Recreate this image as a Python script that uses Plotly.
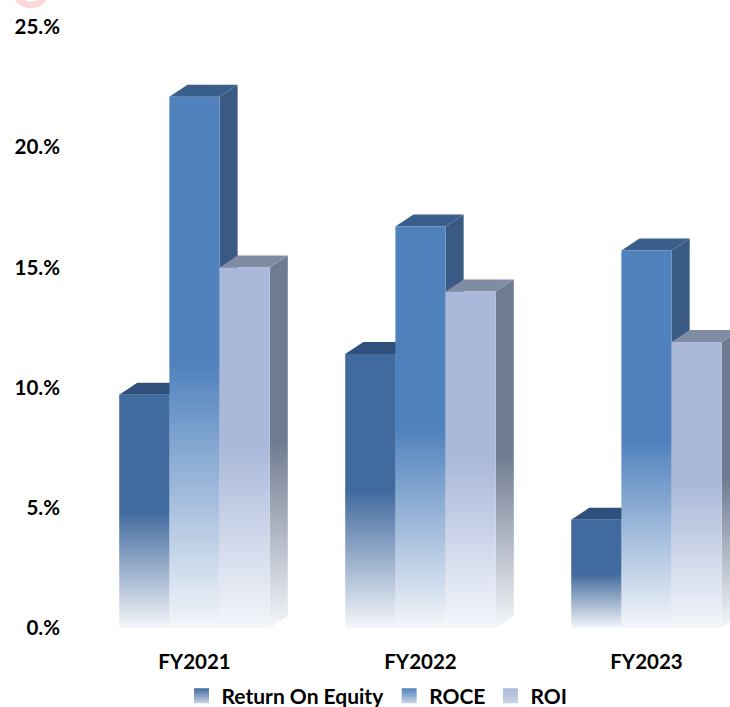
import plotly.graph_objects as go

# ---- data -------------------------------------------------------------
years = ["FY2021", "FY2022", "FY2023"]
roe = [9.7, 11.4, 4.5]
roce = [22.1, 16.7, 15.7]
roi = [15.0, 14.0, 11.9]

y_tick_vals = [0, 5, 10, 15, 20, 25]
y_tick_text = ["0.%", "5.%", "10.%", "15.%", "20.%", "25.%"]

series = [
    # name, values, front, top, side
    ("Return On Equity", roe, "#416A9E", "#2F4F7D", "#34557F"),
    ("ROCE", roce, "#4F81BD", "#395E8B", "#385A84"),
    ("ROI", roi, "#AAB9DA", "#7F8CA4", "#6F7B90"),
]

# ---- geometry of the pseudo-3D boxes (category units / percent units) --
BAR_W = 0.222   # front face width
DEPTH_X = 0.08  # receding depth, horizontal
DEPTH_Y = 0.5   # receding depth, vertical
FADE = "#F4F6FA"

fig = go.Figure()


def face(xs, ys, color, fade=True):
    if fade:
        grad = dict(type="vertical",
                    colorscale=[[0, FADE], [0.5, color], [1, color]])
        return go.Scatter(x=xs, y=ys, fill="toself", mode="lines",
                          line=dict(width=0), fillgradient=grad,
                          hoverinfo="skip", showlegend=False)
    return go.Scatter(x=xs, y=ys, fill="toself", mode="lines",
                      line=dict(width=0), fillcolor=color,
                      hoverinfo="skip", showlegend=False)


n = len(series)
for gi in range(len(years)):
    for si, (name, vals, c_front, c_top, c_side) in enumerate(series):
        v = vals[gi]
        xl = gi + (si - (n - 1) / 2) * BAR_W - BAR_W / 2
        xr = xl + BAR_W
        # right side face
        fig.add_trace(face([xr, xr + DEPTH_X, xr + DEPTH_X, xr, xr],
                           [0, DEPTH_Y, v + DEPTH_Y, v, 0], c_side))
        # top face
        fig.add_trace(face([xl, xr, xr + DEPTH_X, xl + DEPTH_X, xl],
                           [v, v, v + DEPTH_Y, v + DEPTH_Y, v], c_top, fade=False))
        # front face
        fig.add_trace(face([xl, xr, xr, xl, xl], [0, 0, v, v, 0], c_front))

# legend entries
for name, vals, c_front, c_top, c_side in series:
    fig.add_trace(go.Scatter(
        x=[None], y=[None], mode="markers", name=name,
        marker=dict(symbol="square", size=15, color=c_front,
                    gradient=dict(type="vertical", color="#C9D3E4")),
        hoverinfo="skip"))

FONT = "Lato"
W, H = 730, 707
ML, MR, MT, MB = 81, 0, 27, 79
PW, PH = W - ML - MR, H - MT - MB
x_range = [-0.502, 2.3695]


def px_x(px):
    return (px - ML) / PW


def px_y(py):
    return (H - MB - py) / PH


fig.update_layout(
    width=W, height=H,
    margin=dict(l=ML, r=MR, t=MT, b=MB, autoexpand=False),
    paper_bgcolor="white", plot_bgcolor="white",
    font=dict(family=FONT, color="black"),
    xaxis=dict(range=x_range, tickvals=list(range(len(years))), ticktext=years,
               showgrid=False, zeroline=False, showline=False, ticks="",
               tickfont=dict(family=FONT, size=20.5, weight="bold", color="black"),
               ticklabelstandoff=19, fixedrange=True),
    yaxis=dict(range=[0, 25], tickvals=y_tick_vals, ticktext=y_tick_text,
               showgrid=False, zeroline=False, showline=False, ticks="",
               tickfont=dict(family=FONT, size=20.5, weight="bold", color="black"),
               ticklabelstandoff=20, fixedrange=True),
    showlegend=True,
    legend=dict(orientation="h", x=px_x(377), xanchor="center",
                y=px_y(696), yanchor="middle",
                font=dict(family=FONT, size=21, weight="bold", color="black"),
                bgcolor="rgba(0,0,0,0)"),
    shapes=[
        # faint logo ring in the top-left corner
        dict(type="circle", xref="paper", yref="paper",
             x0=px_x(15), x1=px_x(47), y0=px_y(5), y1=px_y(-27),
             line=dict(color="rgba(238,80,80,0.22)", width=7),
             fillcolor="rgba(0,0,0,0)"),
    ],
)

fig.write_html("out.html")
